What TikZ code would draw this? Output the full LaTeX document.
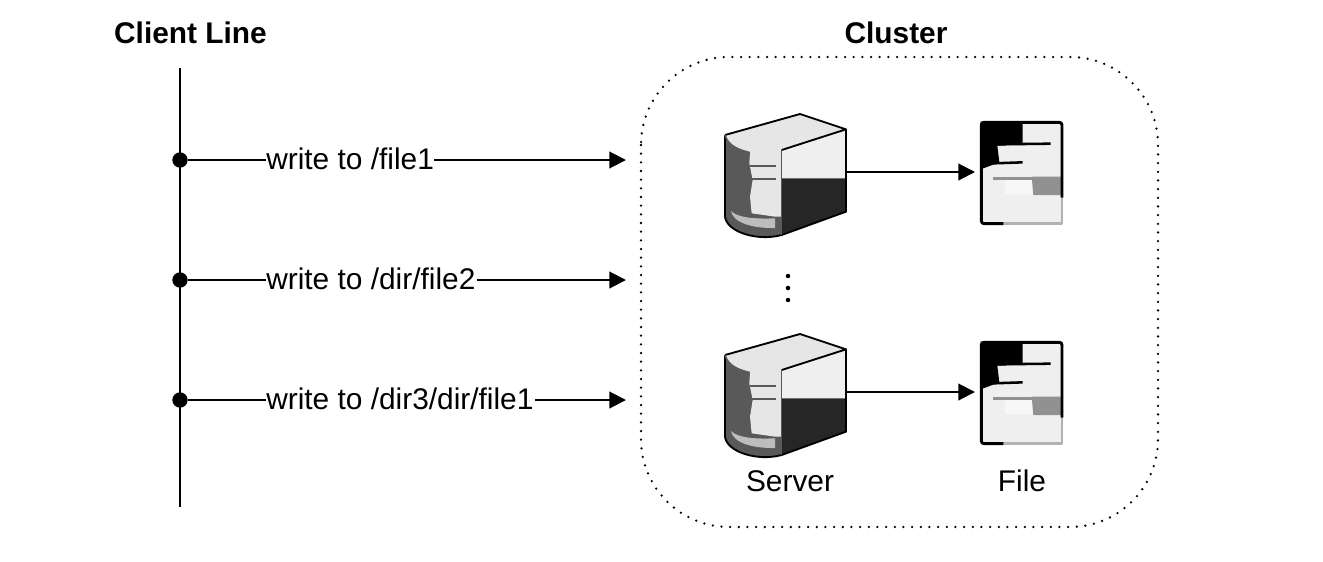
\documentclass[tikz,border=0pt]{standalone}
\usepackage{fontspec}
\setmainfont{Liberation Sans}
\usetikzlibrary{arrows.meta}
\definecolor{srvlight}{HTML}{EFEFEF}
\definecolor{srvtop}{HTML}{E6E6E6}
\definecolor{srvdark}{HTML}{262626}
\definecolor{srvmid}{HTML}{595959}
\definecolor{srvbar}{HTML}{BDBDBD}
\tikzset{
  x=0.75pt,y=-0.75pt,
  conn/.style={line width=1.5pt,black},
  arrowconn/.style={conn,-{Triangle[length=12.5pt,width=12.5pt]}},
  lbl/.style={font=\fontsize{22.4pt}{26pt}\selectfont,inner sep=0pt,anchor=base},
  title/.style={font=\fontsize{22.4pt}{26pt}\selectfont\bfseries,inner sep=0pt,anchor=base},
  edge label/.style={lbl,anchor=base west,minimum height=0pt},
  junction/.style={circle,fill=black,inner sep=0pt,minimum size=11.5pt},
  iconslot/.style={inner sep=0pt,minimum height=0pt,outer sep=0pt},
  pics/servericon/.style={code={
    \begin{scope}[x=0.25pt,y=-0.25pt,line join=round]
      \fill[srvmid] (75,105) -- (75,350) .. controls (80,395) and (170,425) .. (245,405) -- (245,150) -- cycle;
      \fill[srvlight] (245,150) -- (438,88) -- (438,235) -- (245,235) -- cycle;
      \fill[srvdark] (245,235) -- (438,235) -- (438,335) -- (245,405) -- cycle;
      \fill[srvtop] (75,105) -- (300,42) -- (438,88) -- (245,150) -- (245,350) -- (225,350) -- (155,340) -- (150,290) -- (158,240) -- (148,190) -- (150,158) .. controls (110,150) and (80,135) .. (75,105) -- cycle;
      \fill[srvbar] (93,333) .. controls (110,350) and (150,358) .. (225,355) -- (225,384) .. controls (160,385) and (100,370) .. (93,333) -- cycle;
      \draw[line width=1.4pt,srvmid] (150,198) -- (228,198) (150,238) -- (228,238);
      \draw[line width=1.4pt,black] (75,105) -- (300,42) -- (438,88) -- (245,150);
      \draw[line width=1.4pt,black] (75,105) -- (75,350) .. controls (80,395) and (170,425) .. (245,405) -- (438,335) -- (438,88);
      \draw[line width=1pt,srvmid] (245,150) -- (245,405);
      \draw[line width=1.2pt,srvmid] (75,105) .. controls (85,140) and (120,150) .. (150,158);
    \end{scope}}},
  pics/fileicon/.style={code={
    \begin{scope}[x=0.25pt,y=-0.25pt,line join=round]
      \fill[srvlight] (62,50) rectangle (308,358);
      \fill[black] (62,50) -- (188,50) -- (188,118) -- (112,122) -- (118,172) -- (70,190) -- (62,190) -- cycle;
      \fill[white!97!black] (135,225) -- (215,225) -- (218,268) -- (135,268) -- cycle;
      \fill[black!43] (215,215) -- (305,215) -- (305,270) -- (220,270) -- cycle;
      \draw[line width=1.9pt,black] (112,118) -- (272,116) (100,175) -- (188,172);
      \draw[line width=2pt,black!43] (100,220) -- (215,220);
      \draw[line width=2.2pt,black!30] (306,278) -- (306,356) -- (130,356);
      \draw[line width=2.2pt,black,rounded corners=2pt] (130,356) -- (64,356) -- (64,52) -- (306,52) -- (306,278);
    \end{scope}}}
}
\begin{document}
\begin{tikzpicture}
\useasboundingbox (0,0) rectangle (1323,561);
% titles
\node[title] (clienttitle) at (190.5,43) {Client Line};
\node[title] (clustertitle) at (896,43) {Cluster};
% client line
\coordinate (linetop) at (180,68);
\coordinate (linebot) at (180,507);
\draw[conn] (linetop) -- (linebot);
\node[junction] (j1) at (180,160) {};
\node[junction] (j2) at (180,280) {};
\node[junction] (j3) at (180,400) {};
% labels on messages
\node[edge label] (m1) at (266,169) {write to /file1};
\node[edge label] (m2) at (266,289) {write to /dir/file2};
\node[edge label] (m3) at (266,409) {write to /dir3/dir/file1};
\coordinate (t1) at (626,160);
\coordinate (t2) at (626,280);
\coordinate (t3) at (626,400);
\coordinate (m1in) at (266,160);
\coordinate (m2in) at (266,280);
\coordinate (m3in) at (266,400);
\coordinate (m1out) at (434,160);
\coordinate (m2out) at (477,280);
\coordinate (m3out) at (535,400);
\draw[conn] (j1) -- (m1in);
\draw[conn] (j2) -- (m2in);
\draw[conn] (j3) -- (m3in);
\draw[arrowconn] (m1out) -- (t1);
\draw[arrowconn] (m2out) -- (t2);
\draw[arrowconn] (m3out) -- (t3);
% cluster
\draw[line width=1.9pt,line cap=round,dash pattern=on 0pt off 6.5pt,rounded corners=66pt] (641,57) rectangle (1158,527);
% icons
\pic at (700,100) {servericon};
\pic at (700,320) {servericon};
\pic at (960,105) {fileicon};
\pic at (960,325) {fileicon};
\node[iconslot,minimum width=93pt] (s1) at (785,172) {};
\node[iconslot,minimum width=93pt] (s2) at (785,392) {};
\node[iconslot,minimum width=69pt] (f1) at (1021,172) {};
\node[iconslot,minimum width=69pt] (f2) at (1021,392) {};
\draw[arrowconn] (s1) -- (f1);
\draw[arrowconn] (s2) -- (f2);
% ellipsis
\fill (788,276) circle (1.7pt) (788,288) circle (1.7pt) (788,300) circle (1.7pt);
% captions
\node[lbl] (servercap) at (790,491) {Server};
\node[lbl] (filecap) at (1022,491) {File};
\end{tikzpicture}
\end{document}
